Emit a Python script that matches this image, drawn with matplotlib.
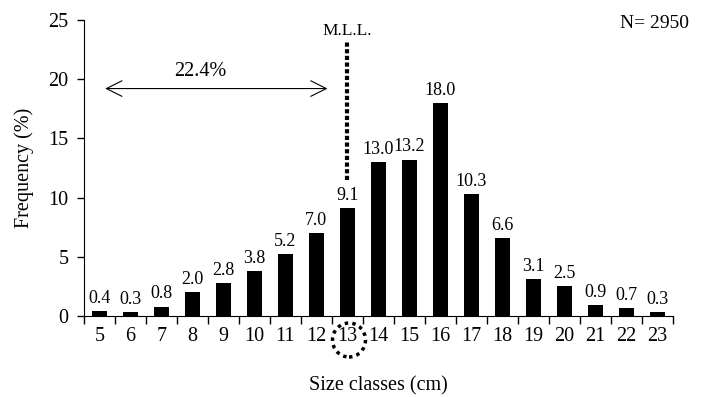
import numpy as np
import matplotlib.pyplot as plt
from matplotlib.patches import Ellipse

plt.rcParams['font.family'] = ['Liberation Serif', 'DejaVu Serif']

# size classes (cm) and frequency (%)
size_classes = [5, 6, 7, 8, 9, 10, 11, 12, 13, 14, 15, 16, 17, 18, 19, 20, 21, 22, 23]
frequency = [0.4, 0.3, 0.8, 2.0, 2.8, 3.8, 5.2, 7.0, 9.1, 13.0, 13.2, 18.0,
             10.3, 6.6, 3.1, 2.5, 0.9, 0.7, 0.3]
n_total = 2950
below_mll = '22.4%'

fig = plt.figure(figsize=(7.04, 3.97), dpi=100)
ax = fig.add_axes([0.119, 0.204, 0.837, 0.746])

x = np.arange(len(size_classes))
ax.bar(x, frequency, width=0.48, color='black')
for xi, v in zip(x, frequency):
    ax.annotate(f'{v:.1f}', (xi, v), xytext=(0, 3), textcoords='offset points',
                ha='center', va='bottom', fontsize=13)

ax.set_xlim(-0.5, len(size_classes) - 0.5)
ax.set_ylim(0, 25)
ax.set_yticks([0, 5, 10, 15, 20, 25])
ax.set_xticks(x)
ax.set_xticklabels([str(s) for s in size_classes])
ax.set_xticks(np.arange(-0.5, len(size_classes)), minor=True)
ax.tick_params(axis='x', which='major', length=0, labelsize=14.5, pad=8)
ax.tick_params(axis='x', which='minor', length=6, width=1)
ax.tick_params(axis='y', length=5, width=1, labelsize=14.5, pad=6)
ax.spines['top'].set_visible(False)
ax.spines['right'].set_visible(False)
ax.set_xlabel('Size classes (cm)', fontsize=14.5, labelpad=22)
ax.set_ylabel('Frequency (%)', fontsize=14.5, labelpad=10)

# minimum landing length marker
i13 = size_classes.index(13)
ax.plot([i13, i13], [11.5, 23.1], color='black', lw=3, linestyle=(0, (1, 0.6)))
ax.text(i13, 23.4, 'M.L.L.', ha='center', va='bottom', fontsize=12.5)
ax.annotate('', xy=(0.1, 19.2), xytext=(7.45, 19.2),
            arrowprops=dict(arrowstyle='<->', color='black', lw=0.8,
                            mutation_scale=28))
ax.text(3.24, 20.6, below_mll, ha='center', va='center', fontsize=14.5)
fig.text(0.978, 0.94, f'N= {n_total}', ha='right', va='center', fontsize=14)

circ = Ellipse((349 / 704, 1 - 340 / 397), 33 / 704, 34 / 397, transform=fig.transFigure,
               fill=False, edgecolor='black', lw=2.5, linestyle=(0, (1, 1.2)))
fig.add_artist(circ)

fig.savefig('out.png', dpi=100)
